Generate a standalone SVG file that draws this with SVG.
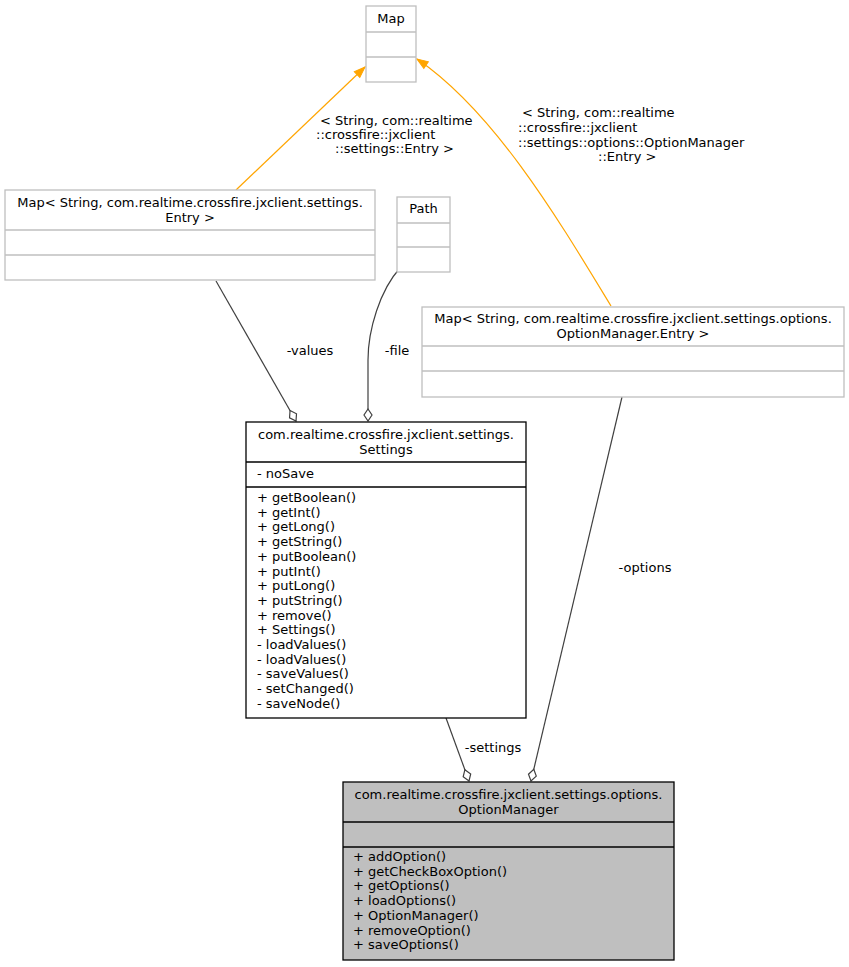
<svg xmlns="http://www.w3.org/2000/svg" width="849" height="967" viewBox="0 0 849 967">
<style>
text{font-family:"DejaVu Sans","Liberation Sans",sans-serif;font-size:13px;fill:#000}
.c{text-anchor:middle}
.ext rect{fill:#fff;stroke:#bfbfbf;stroke-width:1.3}
.ext line{stroke:#bfbfbf;stroke-width:1.3}
.blk rect{fill:#fff;stroke:#000;stroke-width:1.3}
.blk line{stroke:#000;stroke-width:1.3}
.cur rect{fill:#bfbfbf;stroke:#000;stroke-width:1.3}
.cur line{stroke:#000;stroke-width:1.3}
.e{fill:none;stroke:#404040;stroke-width:1.2;marker-end:url(#dia)}
.t{fill:none;stroke:#ffa500;stroke-width:1.2;marker-end:url(#arr)}
</style>
<defs>
<marker id="dia" markerUnits="userSpaceOnUse" orient="auto" markerWidth="14" markerHeight="10" refX="12.5" refY="4.5" overflow="visible">
<path d="M0.5,4.5 L6.5,0.5 L12.5,4.5 L6.5,8.5 Z" fill="#fff" stroke="#404040" stroke-width="1.2"/>
</marker>
<marker id="arr" markerUnits="userSpaceOnUse" orient="auto" markerWidth="12" markerHeight="9" refX="11" refY="4" overflow="visible">
<path d="M0,0 L11,4 L0,8 Z" fill="#ffa500" stroke="#ffa500" stroke-width="1"/>
</marker>
</defs>
<rect width="849" height="967" fill="#fff"/>

<g id="connectors">
<path class="t" d="M236,190 L365,67"/>
<path class="t" d="M611,306 C560,222 495,112 417,59"/>
<path class="e" d="M216,281 L296,421"/>
<path class="e" d="M400,268 C380,290 368,330 368,360 L368,421"/>
<path class="e" d="M446,718 L469,781"/>
<path class="e" d="M622,397 L531,781"/>
<text x="320" y="125">&lt; String, com::realtime</text>
<text x="316" y="139">::crossfire::jxclient</text>
<text x="335" y="153">::settings::Entry &gt;</text>
<text x="522" y="117">&lt; String, com::realtime</text>
<text x="518" y="132">::crossfire::jxclient</text>
<text x="518" y="147">::settings::options::OptionManager</text>
<text x="598" y="161">::Entry &gt;</text>
<text class="c" x="310" y="355">-values</text>
<text class="c" x="397" y="355">-file</text>
<text class="c" x="493" y="752">-settings</text>
<text class="c" x="645" y="572">-options</text>
</g>

<g id="Map" class="ext">
<rect x="366" y="6" width="50" height="76"/>
<line x1="366" y1="32" x2="416" y2="32"/>
<line x1="366" y1="57" x2="416" y2="57"/>
<text class="c" x="391" y="23">Map</text>
</g>

<g id="MapSettingsEntry" class="ext">
<rect x="5" y="190" width="370" height="90"/>
<line x1="5" y1="230" x2="375" y2="230"/>
<line x1="5" y1="255" x2="375" y2="255"/>
<text class="c" x="190" y="207">Map&lt; String, com.realtime.crossfire.jxclient.settings.</text>
<text class="c" x="190" y="222">Entry &gt;</text>
</g>

<g id="Path" class="ext">
<rect x="397" y="197" width="53" height="75"/>
<line x1="397" y1="223" x2="450" y2="223"/>
<line x1="397" y1="247" x2="450" y2="247"/>
<text class="c" x="423.5" y="213">Path</text>
</g>

<g id="MapOptionEntry" class="ext">
<rect x="422" y="307" width="422" height="90"/>
<line x1="422" y1="346" x2="844" y2="346"/>
<line x1="422" y1="371" x2="844" y2="371"/>
<text class="c" x="633" y="323">Map&lt; String, com.realtime.crossfire.jxclient.settings.options.</text>
<text class="c" x="633" y="338">OptionManager.Entry &gt;</text>
</g>

<g id="Settings" class="blk">
<rect x="246" y="422" width="280" height="296"/>
<line x1="246" y1="462" x2="526" y2="462"/>
<line x1="246" y1="487" x2="526" y2="487"/>
<text class="c" x="386" y="439">com.realtime.crossfire.jxclient.settings.</text>
<text class="c" x="386" y="454">Settings</text>
<text x="257" y="478">- noSave</text>
<text x="257" y="502">+ getBoolean()</text>
<text x="257" y="516.7">+ getInt()</text>
<text x="257" y="531.4">+ getLong()</text>
<text x="257" y="546.1">+ getString()</text>
<text x="257" y="560.8">+ putBoolean()</text>
<text x="257" y="575.5">+ putInt()</text>
<text x="257" y="590.2">+ putLong()</text>
<text x="257" y="604.9">+ putString()</text>
<text x="257" y="619.6">+ remove()</text>
<text x="257" y="634.3">+ Settings()</text>
<text x="257" y="649">- loadValues()</text>
<text x="257" y="663.7">- loadValues()</text>
<text x="257" y="678.4">- saveValues()</text>
<text x="257" y="693.1">- setChanged()</text>
<text x="257" y="707.8">- saveNode()</text>
</g>

<g id="OptionManager" class="cur">
<rect x="343" y="782" width="331" height="178"/>
<line x1="343" y1="822" x2="674" y2="822"/>
<line x1="343" y1="847" x2="674" y2="847"/>
<text class="c" x="508.5" y="799">com.realtime.crossfire.jxclient.settings.options.</text>
<text class="c" x="508.5" y="813.5">OptionManager</text>
<text x="353" y="861">+ addOption()</text>
<text x="353" y="875.7">+ getCheckBoxOption()</text>
<text x="353" y="890.4">+ getOptions()</text>
<text x="353" y="905.1">+ loadOptions()</text>
<text x="353" y="919.8">+ OptionManager()</text>
<text x="353" y="934.5">+ removeOption()</text>
<text x="353" y="949.2">+ saveOptions()</text>
</g>
</svg>
